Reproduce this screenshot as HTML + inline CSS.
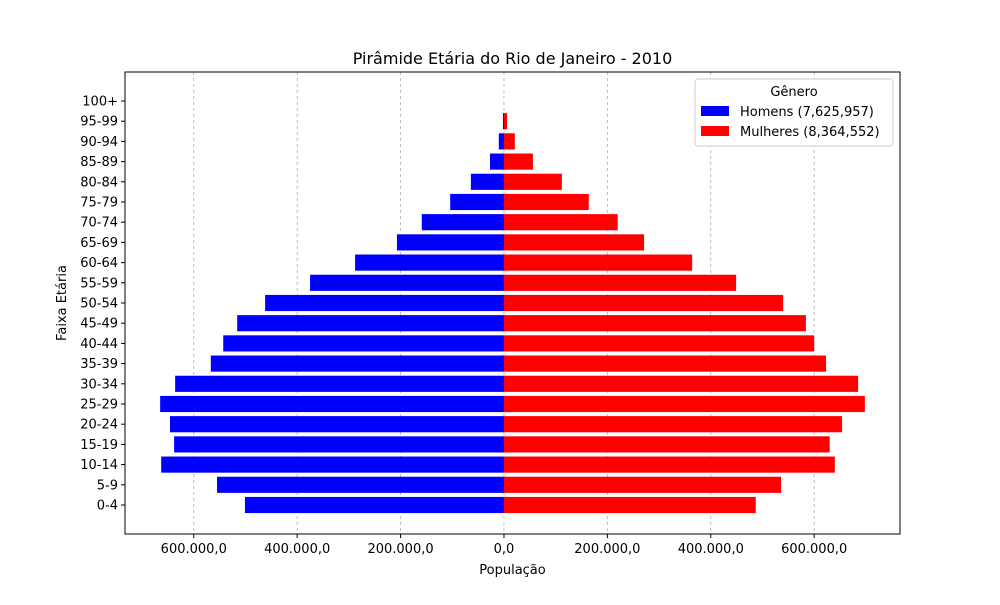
<!DOCTYPE html>
<html><head><meta charset="utf-8"><style>
body{margin:0;background:#fff;font-family:"Liberation Sans","DejaVu Sans",sans-serif}
</style></head><body>
<svg id="chart" width="1000" height="600" xmlns="http://www.w3.org/2000/svg" font-family="DejaVu Sans, Liberation Sans, sans-serif"></svg>
<script>
const categories=["0-4","5-9","10-14","15-19","20-24","25-29","30-34","35-39","40-44","45-49","50-54","55-59","60-64","65-69","70-74","75-79","80-84","85-89","90-94","95-99","100+"];
const men=[501000,555000,663000,638000,646000,665000,636000,567000,543000,516000,462000,375000,288000,207000,159000,104000,64000,27000,10000,2000,0];
const women=[487000,536000,640000,630000,654000,698000,685000,623000,600000,584000,540000,449000,364000,271000,220000,164000,112000,56000,21000,6000,0];
const xTicks=[-600000,-400000,-200000,0,200000,400000,600000];
const xTickLabels=["600.000,0","400.000,0","200.000,0","0,0","200.000,0","400.000,0","600.000,0"];
const legendLabels=["Homens (7,625,957)","Mulheres (8,364,552)"];
const NS="http://www.w3.org/2000/svg";
const svg=document.getElementById('chart');
const L=125,R=900,T=72,B=534,xmin=-733000,xmax=766000;
const x=v=>L+(v-xmin)/(xmax-xmin)*(R-L);
const step=20.2;
const y=i=>505-step*i;
function el(t,a,txt){const e=document.createElementNS(NS,t);for(const k in a)e.setAttribute(k,a[k]);if(txt!==undefined)e.textContent=txt;svg.appendChild(e);return e;}
xTicks.forEach((t,i)=>{
 const g=el('line',{x1:x(t),x2:x(t),y1:T,y2:B,stroke:'#b0b0b0','stroke-dasharray':'3,3','stroke-width':0.8});
 
 el('line',{x1:x(t),x2:x(t),y1:B,y2:B+4,stroke:'#000'});
 const lb=el('text',{x:x(t),y:B+19,'text-anchor':'middle','font-size':13},xTickLabels[i]);
 
});
const bh=step*0.8;
categories.forEach((c,i)=>{
 const m=el('rect',{x:x(-men[i]),y:y(i)-bh/2,width:x(0)-x(-men[i]),height:bh,fill:'#0000ff'});
 
 const w=el('rect',{x:x(0),y:y(i)-bh/2,width:x(women[i])-x(0),height:bh,fill:'#ff0000'});
 
 el('line',{x1:L-4,x2:L,y1:y(i),y2:y(i),stroke:'#000'});
 const lb=el('text',{x:L-7,y:y(i)+4.5,'text-anchor':'end','font-size':13},c);
 
});
const fr=el('rect',{x:L,y:T,width:R-L,height:B-T,fill:'none',stroke:'#000','stroke-width':1});

const tt=el('text',{x:(L+R)/2,y:64,'text-anchor':'middle','font-size':16},'Pirâmide Etária do Rio de Janeiro - 2010');

const xt=el('text',{x:(L+R)/2,y:574,'text-anchor':'middle','font-size':13},'População');

const yt=el('text',{x:66,y:(T+B)/2,'text-anchor':'middle','font-size':13,transform:`rotate(-90 66 ${(T+B)/2})`},'Faixa Etária');

const lg=el('rect',{x:695,y:79,width:198,height:67,fill:'#fff',stroke:'#ccc',rx:3});

const lgt=el('text',{x:794,y:96,'text-anchor':'middle','font-size':13},'Gênero');

['#0000ff','#ff0000'].forEach((col,i)=>{
 const s=el('rect',{x:701,y:106+i*20,width:28,height:10,fill:col});
 
 const t=el('text',{x:740,y:116+i*20,'font-size':13},legendLabels[i]);
 
});
</script>
</body></html>
